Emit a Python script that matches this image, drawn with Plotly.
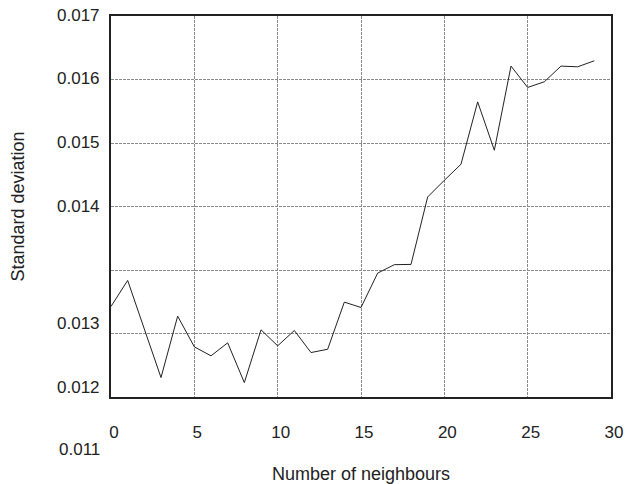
import plotly.graph_objects as go

# Standard deviation of the estimate against the number of neighbours used
neighbours = list(range(0, 30))
std_dev = [
    0.012426, 0.012836, 0.012070, 0.011306, 0.012273, 0.011790, 0.011648,
    0.011853, 0.011227, 0.012058, 0.011806, 0.012047, 0.011700, 0.011752,
    0.012494, 0.012410, 0.012951, 0.013084, 0.013088, 0.014150, 0.014413,
    0.014666, 0.015648, 0.014886, 0.016211, 0.015875, 0.015964, 0.016211,
    0.016200, 0.016295,
]

x_ticks = [0, 5, 10, 15, 20, 25, 30]
y_tick_labels = ["0.017", "0.016", "0.015", "0.014", "0.013", "0.012", "0.011"]
# vertical placement of the value labels along the left side (fraction of plot height)
y_label_pos = [1.0026, 0.835, 0.668, 0.501, 0.192, 0.024, -0.138]

FONT = "Liberation Sans, Arial, Helvetica, sans-serif"
INK = "#222222"
GRID = "#8a8a8a"

fig = go.Figure()
fig.add_trace(go.Scatter(
    x=neighbours, y=std_dev, mode="lines",
    line=dict(color=INK, width=1),
    showlegend=False, hoverinfo="x+y",
))

for txt, pos in zip(y_tick_labels, y_label_pos):
    fig.add_annotation(
        x=0, xref="paper", y=pos, yref="paper",
        text=txt, showarrow=False, xanchor="right", yanchor="middle",
        xshift=-9, font=dict(family=FONT, size=17, color=INK),
    )

fig.update_layout(
    width=632, height=484,
    margin=dict(l=111, r=21, t=16, b=87),
    paper_bgcolor="white", plot_bgcolor="white",
    font=dict(family=FONT, size=17, color=INK),
    xaxis=dict(
        range=[0, 30], tickvals=x_ticks, ticktext=[str(v) for v in x_ticks],
        showgrid=True, gridcolor=GRID, griddash="3px,1px", gridwidth=1,
        zeroline=False, showline=True, linecolor=INK, linewidth=2, mirror=True,
        ticks="outside", ticklen=0, ticklabelstandoff=19, ticklabelshift=3,
        tickfont=dict(family=FONT, size=17, color=INK),
        automargin=False,
        title=dict(text="Number of neighbours", standoff=27,
                   font=dict(family=FONT, size=18, color=INK)),
    ),
    yaxis=dict(
        range=[0.011, 0.017], dtick=0.001, tick0=0.011,
        showgrid=True, gridcolor=GRID, griddash="3px,1px", gridwidth=1,
        zeroline=False, showline=True, linecolor=INK, linewidth=2, mirror=True,
        showticklabels=False, ticks="", automargin=False,
        title=dict(text="Standard deviation", standoff=80,
                   font=dict(family=FONT, size=18, color=INK)),
    ),
)

fig.write_html("out.html")
